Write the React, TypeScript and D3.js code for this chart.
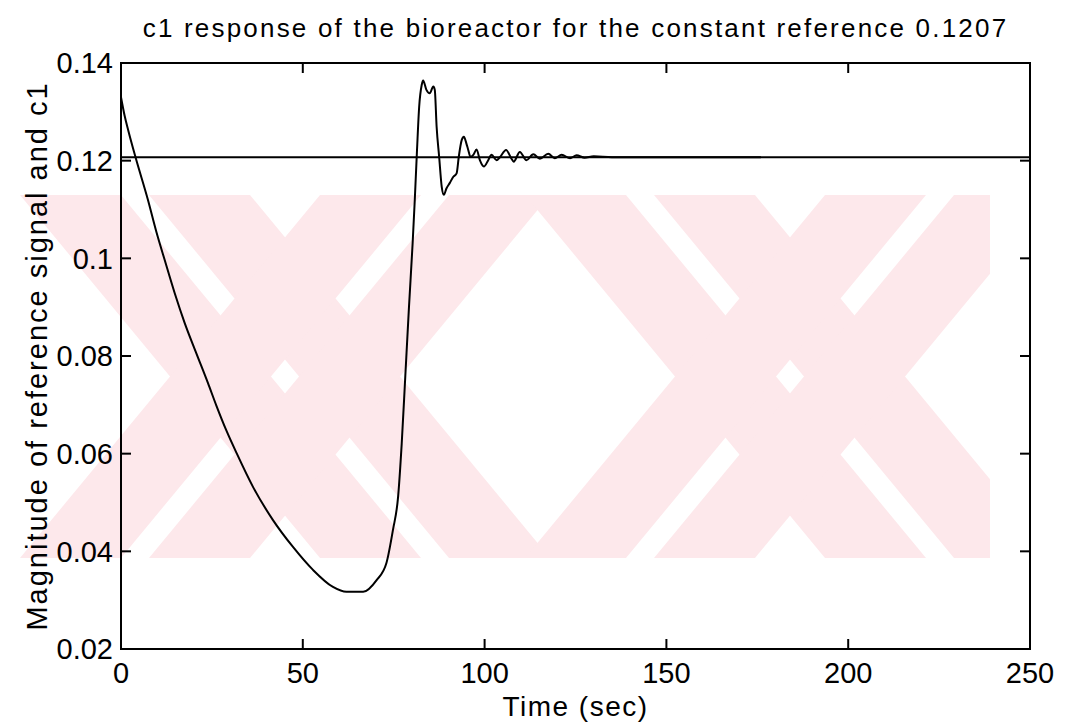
import React from 'react';
import * as d3 from 'd3';

// time (sec) and c1
const timeSec = [
  0, 1, 2, 4, 7.4, 9.7, 12, 14.8, 17.5, 20.7, 23.9, 26.2, 29, 31.8, 36.3, 41.8, 47.3,
  52.8, 58.3, 62, 66.6, 70.3, 73, 74.8, 76.2, 77.2, 78.2, 79.2, 80.2, 80.8, 81.4, 82,
  82.7, 83.1, 84, 84.9, 85.9, 86.3, 86.8, 87.5, 88.2, 88.8, 89.5, 90.4, 91.4, 92.3,
  92.9, 93.7, 94.3, 95, 95.5, 96.1, 96.9, 97.8, 98.7, 99.8, 101, 101.9, 103.3, 104.2,
  105.9, 107.4, 108, 109.7, 111.5, 113.4, 115.2, 117.5, 119.3, 121.2, 123.5, 125.3,
  127.5, 130, 135, 176,
];
const c1Values = [
  0.133, 0.1292, 0.1262, 0.1207, 0.112, 0.1055, 0.0997, 0.0928, 0.0868, 0.0806, 0.0745,
  0.0699, 0.0647, 0.0601, 0.0532, 0.0464, 0.0409, 0.0362, 0.0327, 0.0317, 0.0317,
  0.0341, 0.0376, 0.0444, 0.0511, 0.062, 0.076, 0.09, 0.103, 0.112, 0.122, 0.131,
  0.1355, 0.1364, 0.1345, 0.1338, 0.1352, 0.1345, 0.127, 0.1208, 0.1147, 0.113, 0.1143,
  0.1154, 0.1167, 0.1174, 0.1208, 0.1242, 0.1249, 0.1235, 0.1222, 0.1208, 0.1212,
  0.1223, 0.1201, 0.1188, 0.1201, 0.1212, 0.1201, 0.1207, 0.1222, 0.1204, 0.1198,
  0.1218, 0.1201, 0.1213, 0.1204, 0.1214, 0.1205, 0.1212, 0.1205, 0.1211, 0.1206,
  0.1209, 0.1207, 0.1207,
];
const refTime = [0, 250];
const refValue = 0.1207;

const xTicks = [0, 50, 100, 150, 200, 250];
const yTicks = [0.02, 0.04, 0.06, 0.08, 0.1, 0.12, 0.14];
const yTickLabels = ['0.02', '0.04', '0.06', '0.08', '0.1', '0.12', '0.14'];

const title = 'c1 response of the bioreactor for the constant reference 0.1207';
const xLabel = 'Time (sec)';
const yLabel = 'Magnitude of reference signal and c1';

const W = 1065;
const H = 727;
const m = { left: 121, right: 1030, top: 63, bottom: 649 };
const font = '"Liberation Sans", Arial, Helvetica, sans-serif';

// faint "XX" watermark behind the axes (decoration, not data)
const wm = { top: 195, bottom: 558, right: 990, arm: 230, gap: 28, shift: 300 };
const wmCenters = [285, 790];

function armPolys(cx: number, dir: number) {
  // an arm of the X made of two parallel stripes split by a thin white gap
  const half = wm.arm / 2;
  const tc = cx - dir * wm.shift / 2;
  const bc = cx + dir * wm.shift / 2;
  const parts = [[-half, -wm.gap / 2], [wm.gap / 2, half]];
  return parts.map(([a, b]) =>
    `${tc + a},${wm.top} ${tc + b},${wm.top} ${bc + b},${wm.bottom} ${bc + a},${wm.bottom}`);
}

export default function App() {
  const x = d3.scaleLinear().domain([0, 250]).range([m.left, m.right]);
  const y = d3.scaleLinear().domain([0.02, 0.14]).range([m.bottom, m.top]);
  const pts = timeSec.map((t, i) => [t, c1Values[i]] as [number, number]);
  const line = d3.line<[number, number]>().x(d => x(d[0])).y(d => y(d[1]));
  const smooth = d3.line<[number, number]>().x(d => x(d[0])).y(d => y(d[1])).curve(d3.curveMonotoneX);
  const tick = 10;
  const polys = wmCenters.flatMap(cx => [...armPolys(cx, 1), ...armPolys(cx, -1)]);

  return (
    <svg width={W} height={H} style={{ position: 'absolute', left: 0, top: 0, background: '#fff' }}
      fontFamily={font}>
      <defs>
        <clipPath id="wm"><rect x={0} y={0} width={wm.right} height={H} /></clipPath>
      </defs>
      <g clipPath="url(#wm)" fill="#fde8eb">
        {polys.map((p, i) => <polygon key={i} points={p} />)}
      </g>

      <text x={(m.left + m.right) / 2} y={37} fontSize={26} textAnchor="middle" letterSpacing={2.2}>{title}</text>

      {/* reference and response */}
      <path d={line(refTime.map(t => [t, refValue]) as [number, number][]) || ''} fill="none" stroke="#000" strokeWidth={2} />
      <path d={smooth(pts) || ''} fill="none" stroke="#000" strokeWidth={2} strokeLinejoin="round" />

      {/* box */}
      <rect x={m.left} y={m.top} width={m.right - m.left} height={m.bottom - m.top} fill="none" stroke="#000" strokeWidth={2} />

      {xTicks.map(t => (
        <g key={'x' + t}>
          <line x1={x(t)} x2={x(t)} y1={m.bottom} y2={m.bottom - tick} stroke="#000" strokeWidth={2} />
          <line x1={x(t)} x2={x(t)} y1={m.top} y2={m.top + tick} stroke="#000" strokeWidth={2} />
          <text x={x(t)} y={m.bottom + 34} fontSize={29} textAnchor="middle">{t}</text>
        </g>
      ))}
      {yTicks.map((v, i) => (
        <g key={'y' + v}>
          <line x1={m.left} x2={m.left + tick} y1={y(v)} y2={y(v)} stroke="#000" strokeWidth={2} />
          <line x1={m.right} x2={m.right - tick} y1={y(v)} y2={y(v)} stroke="#000" strokeWidth={2} />
          <text x={m.left - 8} y={y(v)} dy="0.36em" fontSize={29} textAnchor="end">{yTickLabels[i]}</text>
        </g>
      ))}

      <text x={(m.left + m.right) / 2} y={716} fontSize={28} textAnchor="middle" letterSpacing={1.5}>{xLabel}</text>
      <text transform={`translate(47,${(m.top + m.bottom) / 2}) rotate(-90)`} fontSize={29} textAnchor="middle"
        letterSpacing={2}>{yLabel}</text>
    </svg>
  );
}
